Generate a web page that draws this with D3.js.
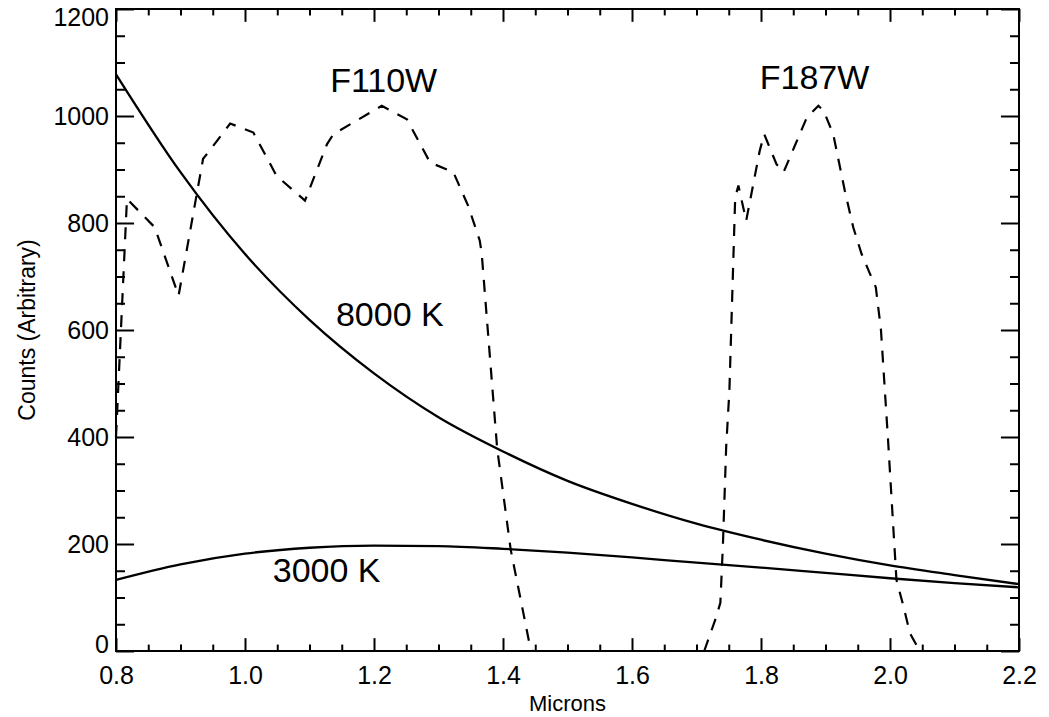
<!DOCTYPE html>
<html>
<head>
<meta charset="utf-8">
<script src="https://cdn.jsdelivr.net/npm/d3@7"></script>
<style>
  body { margin: 0; background: #fff; }
  svg { display: block; font-family: "Liberation Sans", Arial, Helvetica, sans-serif; }
</style>
</head>
<body>
<div class="plot"></div>
<script>

//Wavelength grid for the two blackbody curves (microns)
const bbMicrons = [0.8, 0.9, 1.0, 1.1, 1.2, 1.3, 1.4, 1.5, 1.6, 1.7, 1.8, 1.9, 2.0, 2.1, 2.2];
const counts8000 = [1078, 895, 742, 619, 519, 437, 373, 318, 275, 238, 208, 182, 160, 142, 125];
const counts3000 = [133, 162, 182, 193, 197, 196, 191, 184, 175, 165, 156, 146, 136, 127, 119];

//Filter throughput curves (dashed)
const f110wMicrons = [0.800, 0.817, 0.860, 0.897, 0.935, 0.945, 0.977, 1.013, 1.049, 1.093, 1.127, 1.137,
                      1.212, 1.251, 1.287, 1.323, 1.346, 1.364, 1.367, 1.391, 1.412, 1.442, 1.446];
const f110wCounts  = [400, 845, 792, 664, 920, 935, 986, 969, 888, 842, 947, 966,
                      1019, 994, 913, 895, 832, 767, 743, 378, 189, 8, 0];

const f187wMicrons = [1.712, 1.729, 1.737, 1.741, 1.746, 1.751, 1.760, 1.765, 1.777, 1.798, 1.805, 1.824,
                      1.835, 1.871, 1.889, 1.897, 1.912, 1.930, 1.943, 1.956, 1.969, 1.978, 1.986,
                      1.997, 2.010, 2.021, 2.031, 2.041, 2.050];
const f187wCounts  = [0, 58, 90, 200, 381, 487, 848, 870, 804, 935, 966, 910,
                      895, 997, 1019, 1010, 966, 860, 792, 742, 705, 680, 600,
                      394, 133, 83, 33, 11, 0];

const xTicks = [0.8, 1.0, 1.2, 1.4, 1.6, 1.8, 2.0, 2.2];
const yTicks = [0, 200, 400, 600, 800, 1000, 1200];

//annotation text, placed in data units (left edge / baseline)
const labels = [
  {text: "F110W", x: 1.132, y: 1045},
  {text: "F187W", x: 1.798, y: 1050},
  {text: "8000 K", x: 1.141, y: 607},
  {text: "3000 K", x: 1.043, y: 129}
];

document.addEventListener('DOMContentLoaded', () => {

  const width = 1049;
  const height = 717;
  const margin = {top: 9, left: 116, right: 30, bottom: 66};
  const plotWidth = width - margin.left - margin.right;
  const plotHeight = height - margin.top - margin.bottom;

  const xScale = d3.scaleLinear().domain([0.8, 2.2]).range([0, plotWidth]);
  const yScale = d3.scaleLinear().domain([0, 1200]).range([plotHeight, 0]);

  const svg = d3.select('.plot')
    .append('svg')
    .attr('width', width)
    .attr('height', height);

  const g = svg.append('g')
    .attr('transform', `translate(${margin.left},${margin.top})`);

  //IDL style tick lengths: 2% of the other dimension, minor ones half
  const xMajor = 0.02 * plotHeight;
  const yMajor = 0.02 * plotWidth;

  const xMinor = d3.range(0.8, 2.2001, 0.05).filter(v => !xTicks.some(t => Math.abs(t - v) < 1e-6));
  const yMinor = d3.range(0, 1200.1, 50).filter(v => yTicks.indexOf(v) < 0);

  function tickStyle(sel) {
    sel.select('.domain').remove();
    sel.selectAll('line').attr('stroke', '#000').attr('stroke-width', 2);
  }

  //bottom + top axes
  g.append('g')
    .attr('transform', `translate(0,${plotHeight})`)
    .call(d3.axisBottom(xScale).tickValues(xTicks).tickSizeInner(-xMajor).tickSizeOuter(0).tickFormat(d3.format('.1f')))
    .call(tickStyle)
    .call(a => a.selectAll('text')
      .attr('y', 33).attr('dy', 0)
      .attr('font-size', 25).attr('fill', '#000')
      .attr('font-family', '"Liberation Sans", Arial, sans-serif'));
  g.append('g')
    .attr('transform', `translate(0,${plotHeight})`)
    .call(d3.axisBottom(xScale).tickValues(xMinor).tickSizeInner(-xMajor / 2).tickSizeOuter(0).tickFormat(''))
    .call(tickStyle);
  g.append('g')
    .call(d3.axisTop(xScale).tickValues(xTicks).tickSizeInner(-xMajor).tickSizeOuter(0).tickFormat(''))
    .call(tickStyle);
  g.append('g')
    .call(d3.axisTop(xScale).tickValues(xMinor).tickSizeInner(-xMajor / 2).tickSizeOuter(0).tickFormat(''))
    .call(tickStyle);

  //left + right axes
  g.append('g')
    .call(d3.axisLeft(yScale).tickValues(yTicks).tickSizeInner(-yMajor).tickSizeOuter(0).tickFormat(d3.format('d')))
    .call(tickStyle)
    .call(a => a.selectAll('text')
      .attr('x', -7).attr('dy', '0.35em')
      .attr('font-size', 25).attr('fill', '#000')
      .attr('font-family', '"Liberation Sans", Arial, sans-serif')
      .attr('transform', d => {
        //keep end labels inside the frame, like the original
        const y = yScale(d);
        if (y < 8) return `translate(0,${8 - y})`;
        if (y > plotHeight - 7) return `translate(0,${plotHeight - 7 - y})`;
        return null;
      }));
  g.append('g')
    .call(d3.axisLeft(yScale).tickValues(yMinor).tickSizeInner(-yMajor / 2).tickSizeOuter(0).tickFormat(''))
    .call(tickStyle);
  g.append('g')
    .attr('transform', `translate(${plotWidth},0)`)
    .call(d3.axisRight(yScale).tickValues(yTicks).tickSizeInner(-yMajor).tickSizeOuter(0).tickFormat(''))
    .call(tickStyle);
  g.append('g')
    .attr('transform', `translate(${plotWidth},0)`)
    .call(d3.axisRight(yScale).tickValues(yMinor).tickSizeInner(-yMajor / 2).tickSizeOuter(0).tickFormat(''))
    .call(tickStyle);

  //frame
  g.append('rect')
    .attr('x', 0).attr('y', 0)
    .attr('width', plotWidth).attr('height', plotHeight)
    .attr('fill', 'none')
    .attr('stroke', '#000')
    .attr('stroke-width', 2);

  //curves
  const smooth = d3.line()
    .x(d => xScale(d[0]))
    .y(d => yScale(d[1]))
    .curve(d3.curveMonotoneX);

  const straight = d3.line()
    .x(d => xScale(d[0]))
    .y(d => yScale(d[1]));

  const bb8000 = bbMicrons.map((m, i) => [m, counts8000[i]]);
  const bb3000 = bbMicrons.map((m, i) => [m, counts3000[i]]);
  const f110w = f110wMicrons.map((m, i) => [m, f110wCounts[i]]);
  const f187w = f187wMicrons.map((m, i) => [m, f187wCounts[i]]);

  [bb8000, bb3000].forEach(d => {
    g.append('path')
      .attr('d', smooth(d))
      .attr('fill', 'none')
      .attr('stroke', '#000')
      .attr('stroke-width', 2.3);
  });

  [f110w, f187w].forEach(d => {
    g.append('path')
      .attr('d', straight(d))
      .attr('fill', 'none')
      .attr('stroke', '#000')
      .attr('stroke-width', 2.2)
      .attr('stroke-dasharray', '12,10');
  });

  //annotations
  g.selectAll('.note')
    .data(labels)
    .enter()
    .append('text')
    .attr('class', 'note')
    .attr('x', d => xScale(d.x))
    .attr('y', d => yScale(d.y))
    .attr('font-size', 34)
    .attr('fill', '#000')
    .text(d => d.text);

  //axis titles
  svg.append('text')
    .attr('x', margin.left + plotWidth / 2)
    .attr('y', 711)
    .attr('text-anchor', 'middle')
    .attr('font-size', 22)
    .text('Microns');

  svg.append('text')
    .attr('transform', 'rotate(-90)')
    .attr('x', -(margin.top + plotHeight / 2))
    .attr('y', 35)
    .attr('text-anchor', 'middle')
    .attr('font-size', 23)
    .text('Counts (Arbitrary)');
});
</script>
</body>
</html>
